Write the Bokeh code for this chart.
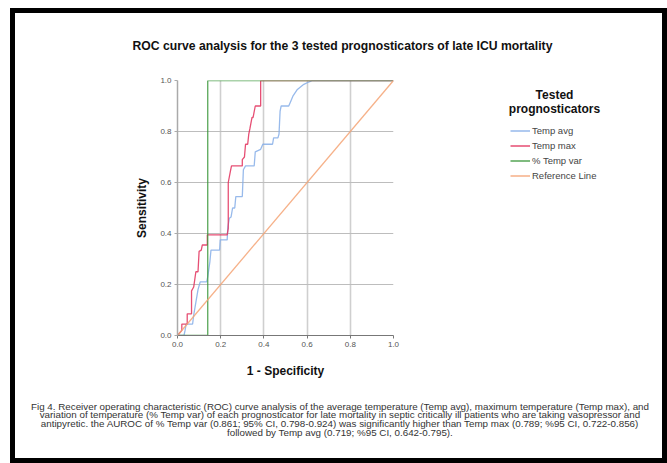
from bokeh.plotting import figure
from bokeh.models import (Range1d, Label, Legend, LegendItem, PrintfTickFormatter, Spacer)
from bokeh.layouts import column, row
from bokeh.embed import file_html
from bokeh.resources import INLINE

# ---------------- data ----------------
title_text = "ROC curve analysis for the 3 tested prognosticators of late ICU mortality"
x_label = "1 - Specificity"
y_label = "Sensitivity"
legend_title = ["Tested", "prognosticators"]
tick_values = [0.0, 0.2, 0.4, 0.6, 0.8, 1.0]
tick_labels = ["0.0", "0.2", "0.4", "0.6", "0.8", "1.0"]
series_names = ["Temp avg", "Temp max", "% Temp var", "Reference Line"]

temp_avg_fpr = [0.0, 0.03, 0.035, 0.04, 0.07, 0.075, 0.085, 0.095, 0.105, 0.135, 0.14,
                0.15, 0.155, 0.195, 0.198, 0.23, 0.233, 0.24, 0.248, 0.255, 0.265, 0.27,
                0.30, 0.305, 0.315, 0.355, 0.36, 0.385, 0.395, 0.44, 0.445, 0.465, 0.47,
                0.475, 0.48, 0.515, 0.525, 0.535, 0.555, 0.585, 0.61, 0.625, 1.0]
temp_avg_tpr = [0.0, 0.0, 0.02, 0.045, 0.045, 0.08, 0.13, 0.18, 0.21, 0.21, 0.23,
                0.29, 0.335, 0.335, 0.375, 0.375, 0.425, 0.46, 0.465, 0.50, 0.50, 0.545,
                0.545, 0.65, 0.665, 0.665, 0.72, 0.73, 0.75, 0.75, 0.775, 0.775, 0.79,
                0.88, 0.90, 0.90, 0.92, 0.94, 0.965, 0.985, 0.995, 1.0, 1.0]

temp_max_fpr = [0.0, 0.02, 0.02, 0.045, 0.045, 0.065, 0.065, 0.075, 0.085, 0.095, 0.10,
                0.11, 0.115, 0.138, 0.138, 0.23, 0.235, 0.235, 0.245, 0.25, 0.30, 0.30,
                0.31, 0.315, 0.325, 0.33, 0.335, 0.345, 0.35, 0.36, 0.385, 0.385, 1.0]
temp_max_tpr = [0.0, 0.02, 0.045, 0.045, 0.085, 0.085, 0.175, 0.19, 0.25, 0.25, 0.33,
                0.335, 0.355, 0.355, 0.395, 0.395, 0.42, 0.60, 0.645, 0.665, 0.665, 0.69,
                0.70, 0.75, 0.75, 0.79, 0.81, 0.855, 0.855, 0.90, 0.90, 1.0, 1.0]

temp_var_fpr = [0.0, 0.14, 0.14, 1.0]
temp_var_tpr = [0.0, 0.0, 1.0, 1.0]

reference_fpr = [0.0, 1.0]
reference_tpr = [0.0, 1.0]

caption_lines = [
    "Fig 4. Receiver operating characteristic (ROC) curve analysis of the average temperature (Temp avg), maximum temperature (Temp max), and",
    "variation of temperature (% Temp var) of each prognosticator for late mortality in septic critically ill patients who are taking vasopressor and",
    "antipyretic. the AUROC of % Temp var (0.861; 95% CI, 0.798-0.924) was significantly higher than Temp max (0.789; %95 CI, 0.722-0.856)",
    "followed by Temp avg (0.719; %95 CI, 0.642-0.795).",
]

# ---------------- layout (pixels) ----------------
FONT = "Liberation Sans"
IN_X, IN_Y = 15, 13            # top-left of the white panel inside the black frame
IN_W, IN_H = 647, 445
TITLE_H = 54                   # title strip
MID_H = 318                    # plot + legend strip
CAP_H = IN_H - TITLE_H - MID_H # caption strip
ROC_W = 385
LEG_W = IN_W - ROC_W
FL, FT, FW, FH = 177, 80, 216, 255   # plot frame in page pixels
colors = ["#86aee8", "#e2305c", "#3a963a", "#f4a374"]

mid_top = IN_Y + TITLE_H
mid_bottom = mid_top + MID_H
BORDER_TOP = FT - mid_top
BORDER_BOTTOM = mid_bottom - (FT + FH)


def blank_fig(w, h, top=0, bottom=0):
    f = figure(width=w, height=h, x_range=Range1d(0, w), y_range=Range1d(0, h - top - bottom),
               x_axis_type=None, y_axis_type=None, output_backend="svg",
               toolbar_location=None, min_border=0,
               min_border_top=top, min_border_bottom=bottom)
    f.grid.visible = False
    f.outline_line_color = None
    f.background_fill_color = "white"
    f.border_fill_color = "white"
    return f


# ---- title strip ----
title_fig = blank_fig(IN_W, TITLE_H)
title_fig.add_layout(Label(x=342 - IN_X, y=IN_Y + TITLE_H - 45, text=title_text,
                           text_align="center", text_baseline="middle", text_font=FONT,
                           text_font_size="12.2px", text_font_style="bold",
                           text_color="#111111"))

# ---- ROC plot ----
p = figure(width=ROC_W, height=MID_H, x_range=Range1d(0, 1), y_range=Range1d(0, 1),
           output_backend="svg", toolbar_location=None,
           min_border_left=FL - IN_X, min_border_right=IN_X + ROC_W - (FL + FW),
           min_border_top=BORDER_TOP, min_border_bottom=BORDER_BOTTOM)
p.background_fill_color = "white"
p.border_fill_color = "white"
p.outline_line_color = None

for ax in (p.xaxis, p.yaxis):
    ax.ticker = tick_values
    ax.formatter = PrintfTickFormatter(format="%.1f")
    ax.major_label_overrides = {v: s for v, s in zip(tick_values, tick_labels)}
    ax.minor_tick_line_color = None
    ax.major_tick_in = 0
    ax.major_tick_out = 3
    ax.major_label_text_font = FONT
    ax.major_label_text_font_size = "8px"
    ax.major_label_text_color = "#555555"
    ax.axis_label_text_font = FONT
    ax.axis_label_text_font_size = "12px"
    ax.axis_label_text_font_style = "bold"
    ax.axis_label_text_color = "#111111"

p.xaxis.axis_label = x_label
p.yaxis.axis_label = y_label
p.xaxis.axis_line_color = "#777777"
p.xaxis.major_tick_line_color = "#777777"
p.yaxis.axis_line_color = "#aaaaaa"
p.yaxis.axis_line_width = 1.5
p.yaxis.major_tick_line_color = "#aaaaaa"
p.xaxis.major_label_standoff = 3
p.yaxis.major_label_standoff = 3
p.xaxis.axis_label_standoff = 14
p.yaxis.axis_label_standoff = 8

p.xgrid.grid_line_color = "#cfcfcf"
p.xgrid.grid_line_width = 1.6
p.ygrid.grid_line_color = "#bdbdbd"
p.ygrid.grid_line_width = 1.0

xs = [temp_avg_fpr, temp_max_fpr, temp_var_fpr, reference_fpr]
ys = [temp_avg_tpr, temp_max_tpr, temp_var_tpr, reference_tpr]
for x, y, c in zip(xs, ys, colors):
    p.line(x, y, line_color=c, line_width=1.3, line_alpha=0.85)

# ---- legend strip (frame aligned with the plot frame) ----
leg_fig = blank_fig(LEG_W, MID_H, top=BORDER_TOP, bottom=BORDER_BOTTOM)
# the swatch renderers carry the same series, mapped through a range that keeps
# them outside the (clipped) legend frame, so only their legend glyphs show
leg_fig.extra_x_ranges = {"offframe": Range1d(10, 11)}
leg_left = IN_X + ROC_W
fb = FT + FH   # frame bottom in page pixels
swatches = [leg_fig.line(x, y, line_color=c, line_width=1.3, x_range_name="offframe")
            for x, y, c in zip(xs, ys, colors)]
legend = Legend(items=[LegendItem(label=n, renderers=[r]) for n, r in zip(series_names, swatches)],
                location=(510 - leg_left, fb - 182.5), orientation="vertical",
                glyph_width=20, glyph_height=15, label_height=15,
                label_standoff=2, spacing=0, padding=0, margin=0,
                border_line_alpha=0, background_fill_alpha=0,
                label_text_font=FONT, label_text_font_size="9.5px",
                label_text_color="#444444")
leg_fig.add_layout(legend)
for i, t in enumerate(legend_title):
    leg_fig.add_layout(Label(x=554 - leg_left, y=fb - (94 + 14 * i), text=t,
                             text_align="center", text_baseline="middle", text_font=FONT,
                             text_font_size="12px", text_font_style="bold",
                             text_color="#111111"))

# ---- caption strip ----
cap_fig = blank_fig(IN_W, CAP_H)
cap_bottom = IN_Y + IN_H
for i, t in enumerate(caption_lines):
    cap_fig.add_layout(Label(x=339.5 - IN_X, y=cap_bottom - (405.5 + 8.8 * i), text=t,
                             text_align="center", text_baseline="middle",
                             text_font=FONT, text_font_size="9.8px",
                             text_color="#333333"))


def black(w, h):
    return Spacer(width=w, height=h, styles={"background-color": "black"})


inner = column(title_fig, row(p, leg_fig, spacing=0), cap_fig, spacing=0)
framed = column(black(IN_W + 10, 5),
                row(black(5, IN_H), inner, black(5, IN_H), spacing=0),
                black(IN_W + 10, 5), spacing=0)
root = column(Spacer(width=667, height=IN_Y - 5),
              row(Spacer(width=IN_X - 5, height=IN_H + 10), framed, spacing=0),
              spacing=0)

open("out.html", "w").write(file_html(root, INLINE))
